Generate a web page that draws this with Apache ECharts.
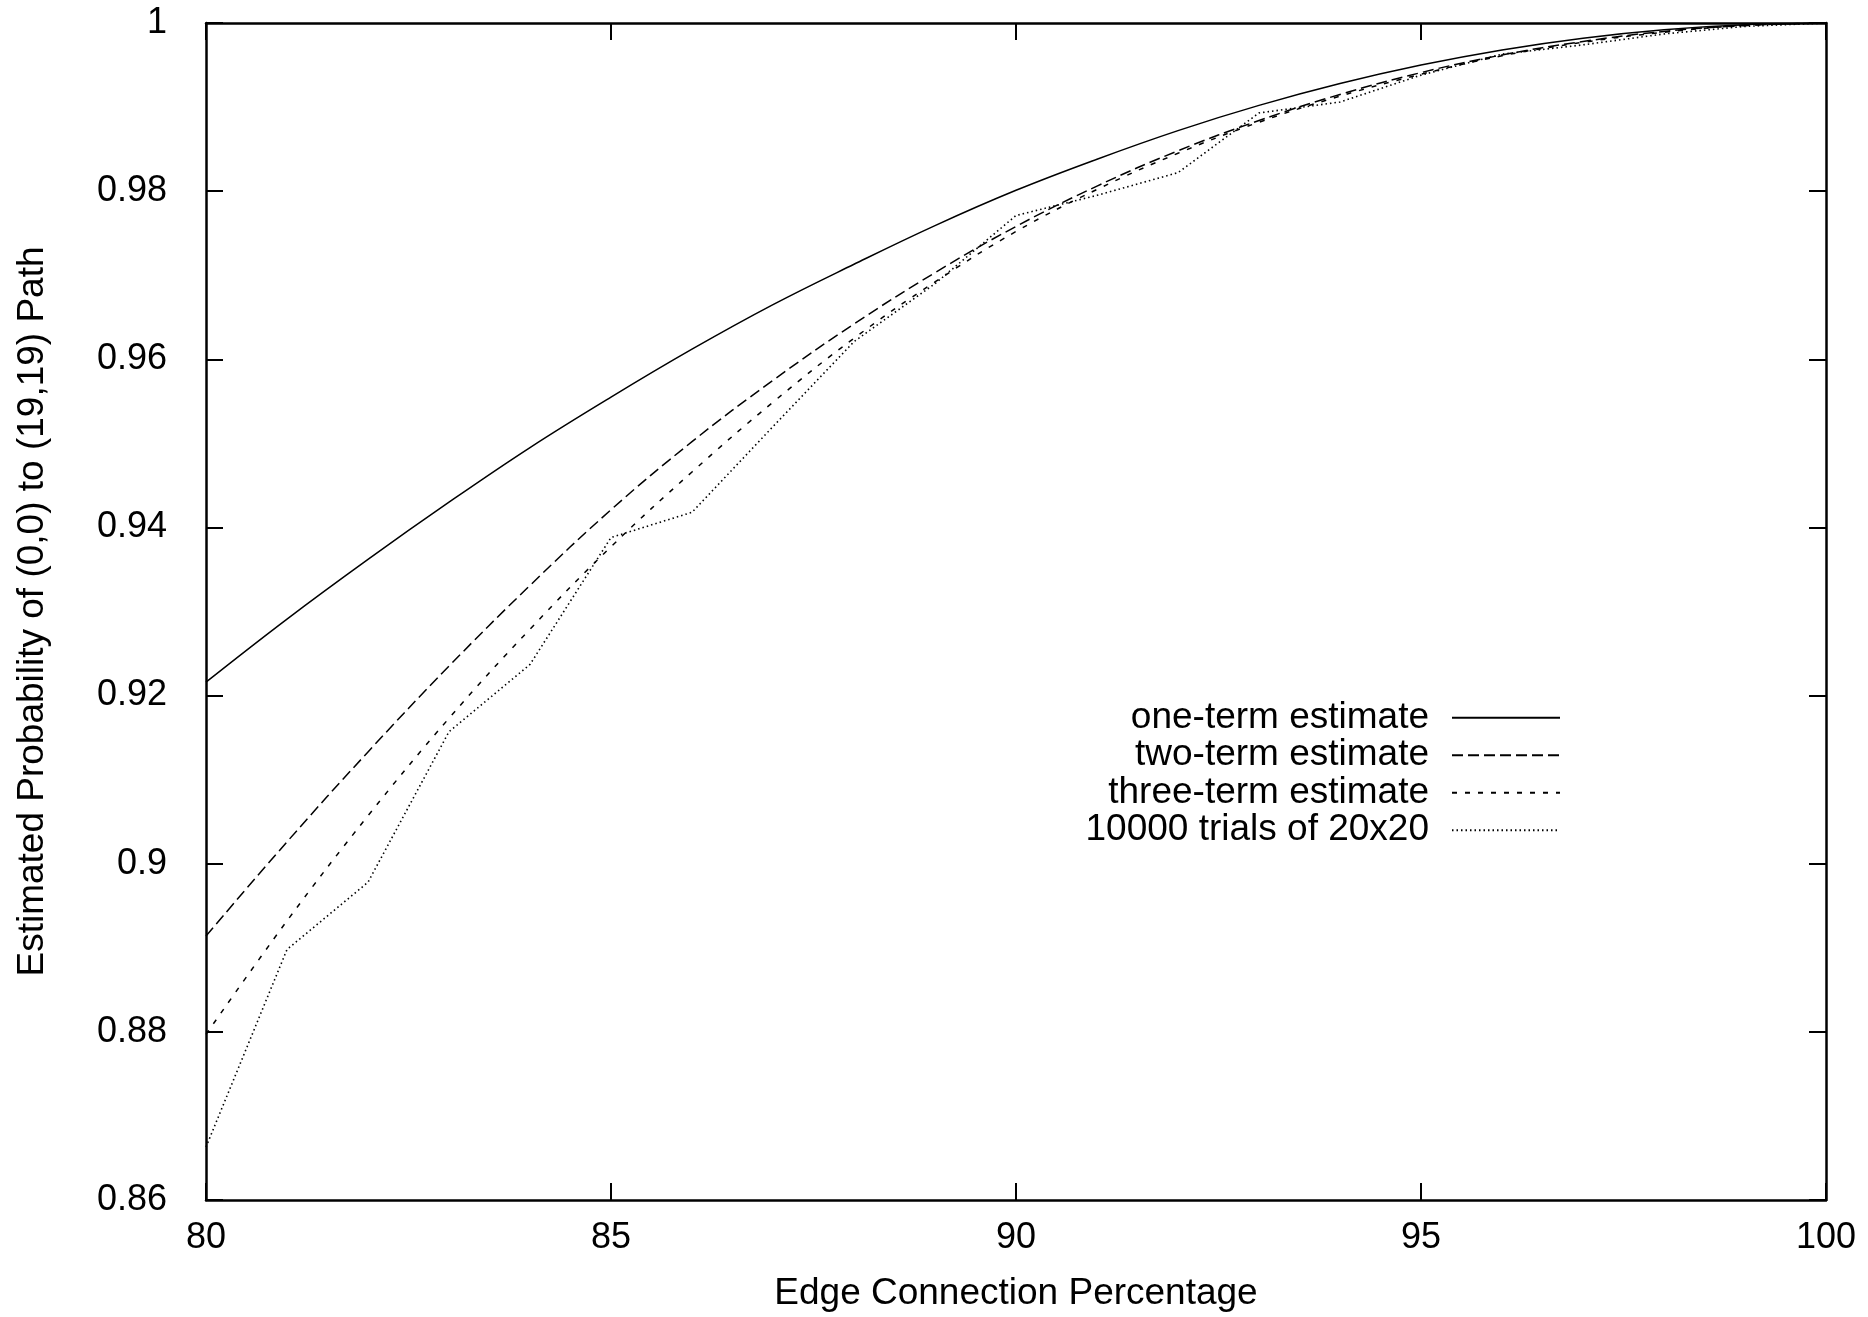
<!DOCTYPE html>
<html>
<head>
<meta charset="utf-8">
<title>Estimated path probability</title>
<script src="https://cdn.jsdelivr.net/npm/echarts@6/dist/echarts.min.js"></script>
<style>
  html, body { margin: 0; padding: 0; background: #fff; }
  #chart { width: 1868px; height: 1317px; }
</style>
</head>
<body>
<div id="chart"></div>
<script>
// edge connection percentage (x)
var percent = [80, 81, 82, 83, 84, 85, 86, 87, 88, 89, 90, 91, 92, 93, 94, 95, 96, 97, 98, 99, 100];

// values
var oneTerm = [0.9216, 0.9291, 0.9362, 0.9430, 0.9495, 0.9555, 0.9612, 0.9665, 0.9713, 0.9759, 0.9801,
  0.9838, 0.9872, 0.9902, 0.9928, 0.9950, 0.9968, 0.9982, 0.9992, 0.9998, 1.0];
var twoTerm = [0.8914, 0.9026, 0.9133, 0.9235, 0.9331, 0.9421, 0.9502, 0.9575, 0.9642, 0.9703, 0.9758,
  0.9806, 0.9848, 0.9884, 0.9915, 0.9941, 0.9962, 0.9978, 0.9990, 0.9997, 1.0];
var threeTerm = [0.8797, 0.8932, 0.9057, 0.9173, 0.9279, 0.9377, 0.9466, 0.9549, 0.9625, 0.9692, 0.9752,
  0.9802, 0.9845, 0.9882, 0.9913, 0.9939, 0.9961, 0.9977, 0.9989, 0.9997, 1.0];
var trials = [0.8663, 0.8898, 0.8978, 0.9157, 0.9237, 0.9388, 0.9418, 0.9520, 0.9621, 0.9690, 0.9771,
  0.9795, 0.9822, 0.9893, 0.9906, 0.9938, 0.9963, 0.9974, 0.9987, 0.9996, 1.0];

var seriesNames = ['one-term estimate', 'two-term estimate', 'three-term estimate', '10000 trials of 20x20'];

function pairs(ys) {
  return percent.map(function (x, i) { return [x, ys[i]]; });
}

var FONT = 'Liberation Sans, Arial, Helvetica, sans-serif';

var chart = echarts.init(document.getElementById('chart'));

var option = {
  animation: false,
  backgroundColor: '#ffffff',
  grid: {
    left: 206,
    right: 42,
    top: 23,
    bottom: 116
  },
  legend: {
    orient: 'vertical',
    align: 'right',
    right: 307,
    top: 699,
    padding: 0,
    itemGap: 0,
    itemWidth: 108,
    itemHeight: 14,
    selectedMode: false,
    // hide the marker dot, keep only the line sample
    itemStyle: { color: 'rgba(0,0,0,0)', borderColor: 'rgba(0,0,0,0)', borderWidth: 0, opacity: 0 },
    textStyle: {
      fontFamily: FONT,
      fontSize: 37,
      color: '#000',
      lineHeight: 37.5,
      padding: [0, 18, 0, 0]
    },
    data: seriesNames
  },
  xAxis: [
    {
      type: 'value',
      min: 80,
      max: 100,
      interval: 5,
      name: 'Edge Connection Percentage',
      nameLocation: 'middle',
      nameGap: 75,
      nameTextStyle: { fontFamily: FONT, fontSize: 37, color: '#000' },
      axisLine: { lineStyle: { color: '#000', width: 2.5 } },
      axisTick: { inside: true, length: 17, lineStyle: { color: '#000', width: 2 } },
      axisLabel: { margin: 20, fontFamily: FONT, fontSize: 36, color: '#000' },
      splitLine: { show: false }
    },
    {
      // mirrored top edge of the frame
      type: 'value',
      position: 'top',
      min: 80,
      max: 100,
      interval: 5,
      axisLine: { lineStyle: { color: '#000', width: 2.5 } },
      axisTick: { inside: true, length: 17, lineStyle: { color: '#000', width: 2 } },
      axisLabel: { show: false },
      splitLine: { show: false }
    }
  ],
  yAxis: [
    {
      type: 'value',
      min: 0.86,
      max: 1,
      interval: 0.02,
      name: 'Estimated Probability of (0,0) to (19,19) Path',
      nameLocation: 'middle',
      nameRotate: 90,
      nameGap: 155,
      nameTextStyle: { fontFamily: FONT, fontSize: 37, color: '#000' },
      axisLine: { show: true, lineStyle: { color: '#000', width: 2.5 } },
      axisTick: { show: true, inside: true, length: 17, lineStyle: { color: '#000', width: 2 } },
      axisLabel: {
        margin: 39,
        fontFamily: FONT,
        fontSize: 36,
        color: '#000',
        formatter: function (v) { return String(+v.toFixed(2)); }
      },
      splitLine: { show: false }
    },
    {
      // mirrored right edge of the frame
      type: 'value',
      position: 'right',
      min: 0.86,
      max: 1,
      interval: 0.02,
      axisLine: { show: true, lineStyle: { color: '#000', width: 2.5 } },
      axisTick: { show: true, inside: true, length: 17, lineStyle: { color: '#000', width: 2 } },
      axisLabel: { show: false },
      splitLine: { show: false }
    }
  ],
  series: [
    {
      name: seriesNames[0],
      type: 'line',
      data: pairs(oneTerm),
      smooth: 0.4,
      symbol: 'none',
      lineStyle: { color: '#000', width: 1.5, type: 'solid' },
      itemStyle: { color: '#000' }
    },
    {
      name: seriesNames[1],
      type: 'line',
      data: pairs(twoTerm),
      smooth: 0.4,
      symbol: 'none',
      lineStyle: { color: '#000', width: 1.5, type: [11, 5] },
      itemStyle: { color: '#000' }
    },
    {
      name: seriesNames[2],
      type: 'line',
      data: pairs(threeTerm),
      smooth: 0.4,
      symbol: 'none',
      lineStyle: { color: '#000', width: 1.5, type: [5, 8] },
      itemStyle: { color: '#000' }
    },
    {
      name: seriesNames[3],
      type: 'line',
      data: pairs(trials),
      symbol: 'none',
      lineStyle: { color: '#000', width: 1.6, type: [1.5, 3] },
      itemStyle: { color: '#000' }
    }
  ]
};

chart.setOption(option);
</script>
</body>
</html>
